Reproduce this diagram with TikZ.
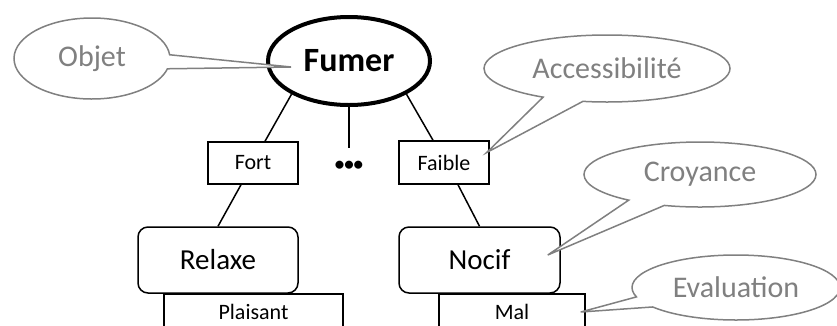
\documentclass[tikz,border=0pt]{standalone}
\usepackage{fontspec}
\setmainfont{Carlito}
\usetikzlibrary{shapes.geometric,shapes.callouts}
\definecolor{bubblegray}{RGB}{128,128,128}

\begin{document}
\begin{tikzpicture}[x=1pt, y=-1pt,
  bubble/.style={ellipse callout, draw=bubblegray, line width=1.5pt, fill=white,
    text=bubblegray, inner sep=0pt, callout pointer arc=20,
    font=\fontsize{30}{34}\selectfont},
  tag/.style={draw, line width=1.5pt, inner sep=0pt, minimum width=90pt,
    minimum height=42pt, font=\fontsize{22}{26}\selectfont},
  concept/.style={draw, line width=1.5pt, rounded corners=10pt, inner sep=0pt,
    minimum height=66pt, font=\fontsize{29}{34}\selectfont}]
\useasboundingbox (0,0) rectangle (837,325);
\clip (0,0) rectangle (837,325);
%
\node [ellipse, draw, line width=4pt, minimum width=162pt, minimum height=88pt,
  font=\bfseries\fontsize{34}{40}\selectfont] (fumer) at (349,61) {Fumer};
\node [tag] (fort) at (253,163) {Fort};
\node [inner sep=0pt, minimum height=36pt, font=\bfseries\fontsize{19}{20}\selectfont] (dots) at (349,166) {•••};
\node [tag, minimum height=43pt] (faible) at (444,162.5) {Faible};
\node [concept, minimum width=160pt] (relaxe) at (218,260) {Relaxe};
\node [concept, minimum width=161pt] (nocif) at (479.5,260) {Nocif};
\node [tag, anchor=north, minimum width=179pt, minimum height=37pt, font=\fontsize{22}{24}\selectfont] (plaisant) at (253.5,293) {Plaisant};
\node [tag, anchor=north, minimum width=146pt, minimum height=37pt, font=\fontsize{22}{24}\selectfont] (mal) at (512,293) {Mal};
%
\draw [line width=1.5pt] (fumer.210) -- ([xshift=12pt]fort.north);
\draw [line width=1.5pt] (fumer.south) -- (dots.north);
\draw [line width=1.5pt] (fumer.330) -- ([xshift=-11pt]faible.north);
\draw [line width=1.5pt] ([xshift=-12pt]fort.south) -- (relaxe.north);
\draw [line width=1.5pt] ([xshift=14pt]faible.south) -- (nocif.north);
%
\node [bubble, minimum width=156pt, minimum height=81pt,
  callout absolute pointer={([shift={(25,6)}]fumer.west)}] (objet) at (92,58.5) {Objet};
\node [bubble, minimum width=246pt, minimum height=67pt,
  callout absolute pointer={([shift={(-3,-10)}]faible.east)}] (access) at (607,68.5) {Accessibilité};
\node [bubble, minimum width=232pt, minimum height=65pt,
  callout absolute pointer={([shift={(-13,-5)}]nocif.east)}] (croyance) at (700,174.5) {Croyance};
\node [bubble, minimum width=208pt, minimum height=65pt,
  callout absolute pointer={([shift={(-5,19)}]mal.north east)}] (evaluation) at (736,287.5) {Evaluation};
%%%%%%%%%%%%%%%%%%%%%%%%%%%%%%%
\end{tikzpicture}
\end{document}
